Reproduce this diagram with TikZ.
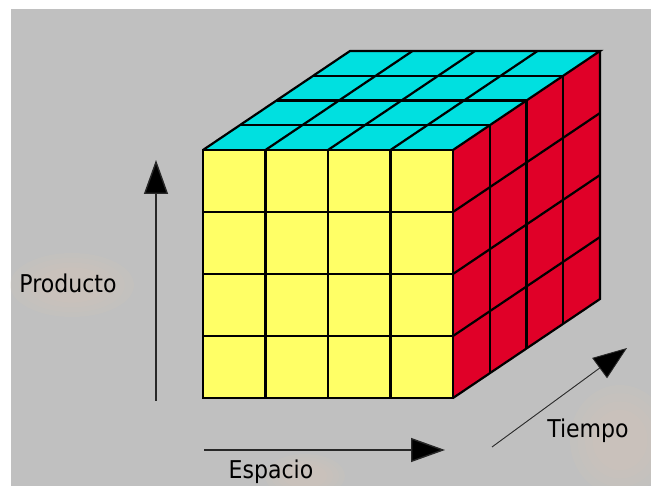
\documentclass[tikz,border=0pt]{standalone}
\usepackage{fontspec}
\setmainfont{DejaVu Sans Condensed}
\usetikzlibrary{arrows.meta,calc}
\definecolor{bggray}{RGB}{192,192,192}
\definecolor{cubeyellow}{RGB}{255,255,102}
\definecolor{cubecyan}{RGB}{0,224,224}
\definecolor{cubered}{RGB}{224,0,40}
\definecolor{halo}{RGB}{214,200,184}
\definecolor{axisgray}{RGB}{40,40,40}
\tikzset{
  face/.style={draw=black, line width=2.2pt, line join=miter},
  gridline/.style={black, line width=2.2pt},
  axis/.style={axisgray, line width=1.4pt, -{Triangle[length=34pt,width=24pt,fill=black]}},
  thinaxis/.style={axisgray, line width=0.9pt, -{Triangle[length=34pt,width=25pt,fill=black]}},
  lbl/.style={font=\fontsize{24.5}{28}\selectfont, text=black, inner sep=0pt, anchor=base},
  softhalo/.style={halo, opacity=0.14},
}
\begin{document}
\begin{tikzpicture}[x=1pt,y=-1pt]
\useasboundingbox (0,0) rectangle (651,486);
\fill[white] (0,0) rectangle (651,486);
\fill[bggray] (11,9) rectangle (651,486);
% faint halos behind labels
\foreach \s in {1.0,0.85,0.7,0.55} {
  \fill[softhalo] (72,285) ellipse ({62*\s} and {32*\s});
  \fill[softhalo] (305,476) ellipse ({40*\s} and {22*\s});
  \fill[softhalo] (620,440) ellipse ({50*\s} and {55*\s});
}
% cube corners
\coordinate (A) at (203,150);
\coordinate (B) at (453,150);
\coordinate (C) at (453,398);
\coordinate (D) at (203,398);
\coordinate (E) at (350,51);
\coordinate (F) at (600,51);
\coordinate (G) at (600,299);
% faces
\fill[cubecyan] (A) -- (B) -- (F) -- (E) -- cycle;
\fill[cubered] (B) -- (F) -- (G) -- (C) -- cycle;
\fill[cubeyellow] (A) -- (B) -- (C) -- (D) -- cycle;
% grid lines
\foreach \i in {1,2,3} {
  \draw[gridline] ($(A)!\i/4!(B)$) -- ($(D)!\i/4!(C)$);
  \draw[gridline] ($(A)!\i/4!(D)$) -- ($(B)!\i/4!(C)$);
  \draw[gridline] ($(A)!\i/4!(B)$) -- ($(E)!\i/4!(F)$);
  \draw[gridline] ($(A)!\i/4!(E)$) -- ($(B)!\i/4!(F)$);
  \draw[gridline] ($(B)!\i/4!(F)$) -- ($(C)!\i/4!(G)$);
  \draw[gridline] ($(B)!\i/4!(C)$) -- ($(F)!\i/4!(G)$);
}
\draw[face] (A) -- (B) -- (C) -- (D) -- cycle;
\draw[face] (A) -- (E) -- (F) -- (B);
\draw[face] (F) -- (G) -- (C);
% axes
\coordinate (pstart) at (156,401);
\coordinate (pend) at (156,160);
\coordinate (estart) at (204,450);
\coordinate (eend) at (445,450);
\coordinate (tstart) at (492,447);
\coordinate (tend) at (627,348);
\draw[axis] (pstart) -- (pend);
\draw[axis] (estart) -- (eend);
\draw[thinaxis] (tstart) -- (tend);
% labels
\node[lbl] (producto) at (68,293) {Producto};
\node[lbl] (espacio) at (271,478) {Espacio};
\node[lbl] (tiempo) at (588,438) {Tiempo};
\end{tikzpicture}
\end{document}
